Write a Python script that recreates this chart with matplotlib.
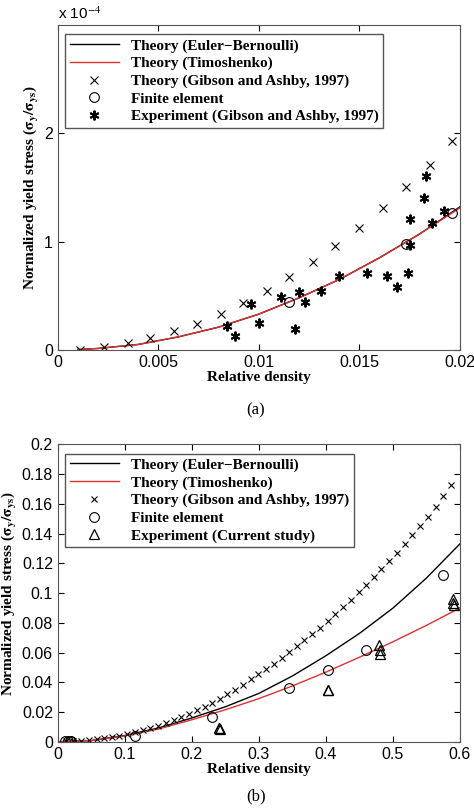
import matplotlib
matplotlib.use("Agg")
import matplotlib.pyplot as plt

# ---- panel (a) data (y in units of 1e-4)
a_line_x = [0.001, 0.002, 0.004, 0.006, 0.008, 0.010, 0.012, 0.014, 0.016, 0.018, 0.020]
a_eb_y = [0.003, 0.013, 0.05, 0.12, 0.21, 0.33, 0.48, 0.65, 0.85, 1.07, 1.32]
a_ti_y = [0.003, 0.013, 0.05, 0.12, 0.21, 0.33, 0.48, 0.65, 0.85, 1.07, 1.31]
a_gib_x = [0.0011, 0.0023, 0.0035, 0.0046, 0.0058, 0.0069, 0.0081, 0.0092, 0.0104, 0.0115,
           0.0127, 0.0138, 0.0150, 0.0162, 0.0173, 0.0185, 0.0196]
a_gib_y = [0.0, 0.03, 0.06, 0.11, 0.17, 0.24, 0.33, 0.43, 0.54, 0.67, 0.81, 0.96, 1.13, 1.31,
           1.50, 1.71, 1.93]
a_fe_x = [0.0115, 0.0173, 0.0196]
a_fe_y = [0.44, 0.98, 1.26]
a_exp_x = [0.0084, 0.0088, 0.0096, 0.0100, 0.0111, 0.0118, 0.0120, 0.0123, 0.0131, 0.0140,
           0.0154, 0.0164, 0.0169, 0.0174, 0.0175, 0.0175, 0.0182, 0.0183, 0.0186, 0.0192]
a_exp_y = [0.22, 0.13, 0.42, 0.25, 0.49, 0.19, 0.53, 0.44, 0.54, 0.68, 0.71, 0.68, 0.58, 0.71,
           0.97, 1.21, 1.40, 1.61, 1.17, 1.28]

# ---- panel (b) data
b_line_x = [0.0, 0.05, 0.1, 0.15, 0.2, 0.25, 0.3, 0.35, 0.4, 0.45, 0.5, 0.55, 0.6]
b_eb_y = [0.0, 0.0008, 0.0042, 0.0092, 0.016, 0.0235, 0.0325, 0.0442, 0.0578, 0.0728, 0.0898, 0.1100, 0.1330]
b_ti_y = [0.0, 0.0008, 0.0040, 0.0085, 0.0148, 0.0215, 0.0290, 0.0375, 0.0468, 0.0568, 0.0672, 0.0782, 0.0900]
b_gib_x = [0.012, 0.023, 0.035, 0.046, 0.058, 0.069, 0.081, 0.092, 0.104, 0.115, 0.127, 0.138,
           0.150, 0.161, 0.173, 0.184, 0.196, 0.207, 0.219, 0.230, 0.242, 0.253, 0.265, 0.276,
           0.288, 0.299, 0.311, 0.322, 0.334, 0.345, 0.357, 0.368, 0.380, 0.391, 0.403, 0.414,
           0.426, 0.437, 0.449, 0.460, 0.472, 0.483, 0.495, 0.506, 0.518, 0.529, 0.541, 0.552,
           0.564, 0.575, 0.587]
b_gib_y = [0.0002, 0.0004, 0.0008, 0.0012, 0.0017, 0.0024, 0.0032, 0.0041, 0.0052, 0.0064,
           0.0078, 0.0093, 0.0109, 0.0126, 0.0145, 0.0166, 0.0189, 0.0212, 0.0236, 0.0262,
           0.0289, 0.0318, 0.0349, 0.0383, 0.0420, 0.0456, 0.0490, 0.0526, 0.0563, 0.0602,
           0.0642, 0.0682, 0.0724, 0.0768, 0.0815, 0.0860, 0.0907, 0.0955, 0.1005, 0.1055,
           0.1107, 0.1160, 0.1215, 0.1270, 0.1328, 0.1388, 0.1450, 0.1515, 0.1582, 0.1652, 0.1725]
b_fe_x = [0.011, 0.015, 0.018, 0.02, 0.115, 0.23, 0.345, 0.403, 0.46, 0.575]
b_fe_y = [0.0002, 0.0003, 0.0003, 0.0003, 0.004, 0.0165, 0.036, 0.048, 0.0615, 0.112]
b_exp_x = [0.24, 0.241, 0.242, 0.403, 0.404, 0.48, 0.481, 0.481, 0.59, 0.591, 0.59]
b_exp_y = [0.009, 0.0095, 0.0085, 0.035, 0.0345, 0.065, 0.062, 0.059, 0.096, 0.092, 0.093]

serif = ['Liberation Serif', 'DejaVu Serif']
sans = ['Liberation Sans', 'DejaVu Sans']
plt.rcParams['font.family'] = sans
plt.rcParams['mathtext.fontset'] = 'stix'

fig = plt.figure(figsize=(4.74, 8.08), dpi=100)
ax1 = fig.add_axes([0.122, 0.567, 0.848, 0.402])
ax2 = fig.add_axes([0.122, 0.082, 0.848, 0.368])

ylab = r'Normalized yield stress ($\mathbf{\sigma_y/\sigma_{ys}}$)'
msz = 6
asterisk = (6, 2, 0)

def style(ax):
    ax.tick_params(direction='in', top=True, right=True, labelsize=11.5, length=4)
    ax.set_xlabel('Relative density', family=serif, weight='bold', fontsize=11, labelpad=1)
    ax.set_ylabel(ylab, family=serif, weight='bold', fontsize=11, labelpad=2)
    for s in ax.spines.values():
        s.set_color('#555555')

legprops = {'family': serif, 'weight': 'bold', 'size': 11}

# panel a
ax1.plot(a_line_x, a_eb_y, color='black', lw=1, label='Theory (Euler\u2212Bernoulli)')
ax1.plot(a_line_x, a_ti_y, color='#e03030', lw=1, label='Theory (Timoshenko)')
ax1.plot(a_gib_x, a_gib_y, 'x', color='black', ms=msz, mew=0.8, label='Theory (Gibson and Ashby, 1997)')
ax1.plot(a_fe_x, a_fe_y, 'o', mfc='none', mec='black', ms=msz + 1, mew=0.8, label='Finite element')
ax1.plot(a_exp_x, a_exp_y, linestyle='none', marker=asterisk, color='black', ms=msz + 1, mew=1.4,
         label='Experiment (Gibson and Ashby, 1997)')
ax1.set_xlim(0, 0.02)
ax1.set_ylim(0, 3)
ax1.set_xticks([0, 0.005, 0.01, 0.015, 0.02])
ax1.set_xticklabels(['0', '0.005', '0.01', '0.015', '0.02'])
ax1.set_yticks([0, 1, 2])
ax1.set_yticklabels(['0', '1', '2'])
style(ax1)
ax1.text(0.0, 1.01, r'x 10$^{-4}$', transform=ax1.transAxes, fontsize=11, va='bottom')
ax1.legend(loc='upper left', prop=legprops, fancybox=False, edgecolor='#555555', framealpha=1,
           handlelength=3.2, borderpad=0.3, labelspacing=0.25, bbox_to_anchor=(0.0, 0.995))

# panel b
ax2.plot(b_line_x, b_eb_y, color='black', lw=1, label='Theory (Euler\u2212Bernoulli)')
ax2.plot(b_line_x, b_ti_y, color='#e03030', lw=1, label='Theory (Timoshenko)')
ax2.plot(b_gib_x, b_gib_y, 'x', color='black', ms=msz - 1, mew=0.8, label='Theory (Gibson and Ashby, 1997)')
ax2.plot(b_fe_x, b_fe_y, 'o', mfc='none', mec='black', ms=msz + 1, mew=0.8, label='Finite element')
ax2.plot(b_exp_x, b_exp_y, '^', mfc='none', mec='black', ms=msz + 1, mew=0.9, label='Experiment (Current study)')
ax2.set_xlim(0, 0.6)
ax2.set_ylim(0, 0.2)
ax2.set_xticks([0, 0.1, 0.2, 0.3, 0.4, 0.5, 0.6])
ax2.set_xticklabels(['0', '0.1', '0.2', '0.3', '0.4', '0.5', '0.6'])
ax2.set_yticks([0, 0.02, 0.04, 0.06, 0.08, 0.1, 0.12, 0.14, 0.16, 0.18, 0.2])
ax2.set_yticklabels(['0', '0.02', '0.04', '0.06', '0.08', '0.1', '0.12', '0.14', '0.16', '0.18', '0.2'])
style(ax2)
ax2.legend(loc='upper left', prop=legprops, fancybox=False, edgecolor='#555555', framealpha=1,
           handlelength=3.2, borderpad=0.3, labelspacing=0.25, bbox_to_anchor=(0.0, 0.995))

fig.text(0.54, 0.492, '(a)', family=serif, fontsize=12, ha='center', va='center')
fig.text(0.54, 0.014, '(b)', family=serif, fontsize=12, ha='center', va='center')

fig.savefig('out.png', dpi=100)
